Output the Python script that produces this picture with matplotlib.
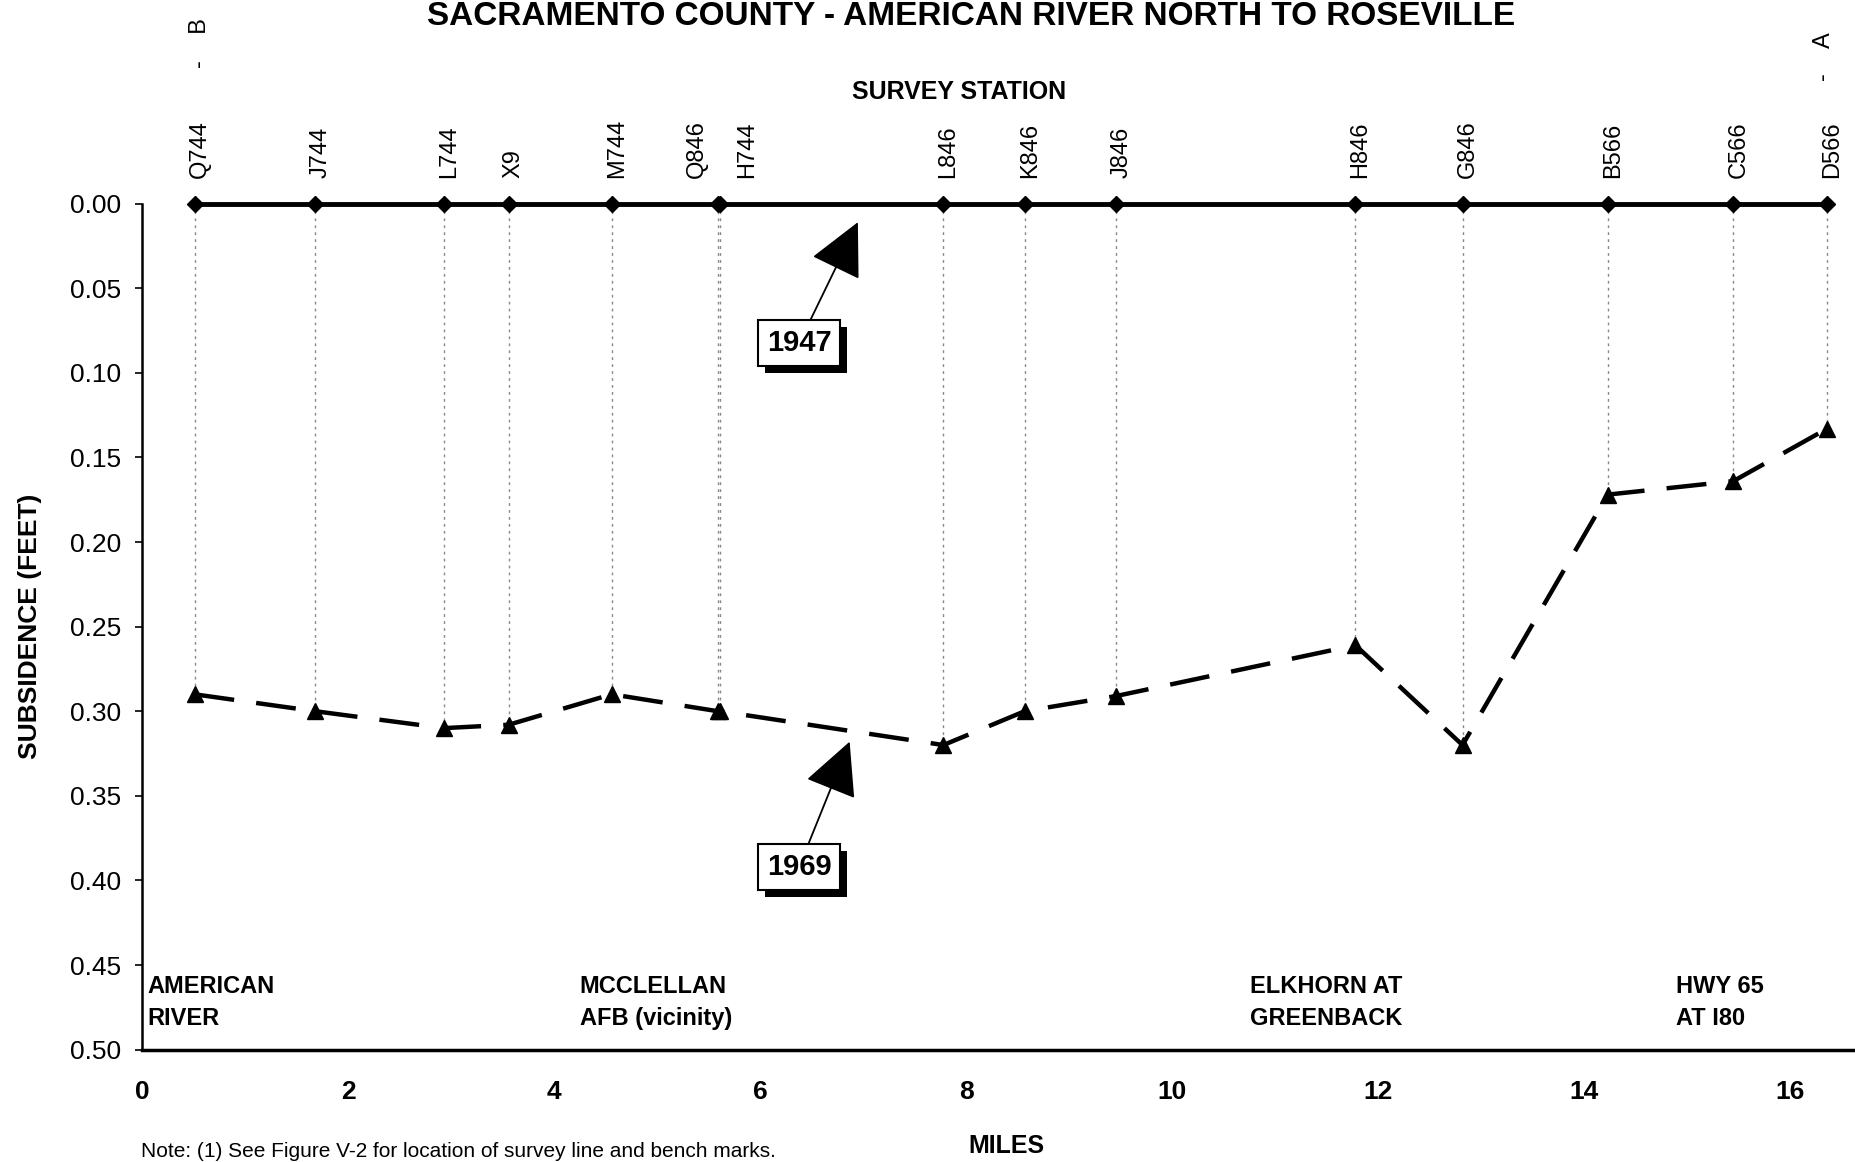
import numpy as np
import matplotlib
matplotlib.use('Agg')
import matplotlib.pyplot as plt
import matplotlib.patheffects as pe
import matplotlib.transforms as mtransforms

plt.rcParams['font.family'] = ['Liberation Sans', 'DejaVu Sans']

#--------------------------------------------------------------------------------------------------------------------------------
# Data
#--------------------------------------------------------------------------------------------------------------------------------

stations = ['Q744', 'J744', 'L744', 'X9', 'M744', 'Q846', 'H744', 'L846', 'K846', 'J846',
            'H846', 'G846', 'B566', 'C566', 'D566']
miles = [0.51, 1.68, 2.93, 3.56, 4.56, 5.59, 5.61, 7.78, 8.57, 9.46,
         11.78, 12.82, 14.23, 15.45, 16.36]
subsidence_1947 = [0.0] * 15
subsidence_1969 = [0.29, 0.30, 0.31, 0.308, 0.29, 0.30, 0.30, 0.32, 0.30, 0.291,
                   0.261, 0.32, 0.172, 0.164, 0.133]

y_ticks = [0.00, 0.05, 0.10, 0.15, 0.20, 0.25, 0.30, 0.35, 0.40, 0.45, 0.50]
x_ticks = [0, 2, 4, 6, 8, 10, 12, 14, 16]

places = ['AMERICAN\nRIVER', 'MCCLELLAN\nAFB (vicinity)', 'ELKHORN AT\nGREENBACK', 'HWY 65\nAT I80']
place_miles = [0.05, 4.25, 10.76, 14.89]

#--------------------------------------------------------------------------------------------------------------------------------
# Figure
#--------------------------------------------------------------------------------------------------------------------------------

fig = plt.figure(figsize=(18.56, 11.62), dpi=100)
ax = fig.add_axes([0.0765, 0.0967, 0.9235, 0.7281])

# vertical guide lines from each station down to the 1969 point
for m, v in zip(miles, subsidence_1969):
    ax.plot([m, m], [0, v], color='#888888', lw=1.0, ls=(0, (2, 3)), zorder=1)

ax.plot(miles, subsidence_1947, color='black', lw=3.5, marker='D', markersize=8, zorder=3,
        clip_on=False)
ax.plot(miles, subsidence_1969, color='black', lw=3.2, ls=(0, (9, 5)), marker='^',
        markersize=11, zorder=3, clip_on=False)

ax.set_xlim(0, 16.64)
ax.set_ylim(0.50, 0.0)
ax.set_xticks(x_ticks)
ax.set_xticklabels([str(t) for t in x_ticks], fontsize=19, fontweight='bold')
ax.set_yticks(y_ticks)
ax.set_yticklabels(['%.2f' % t for t in y_ticks], fontsize=19)
ax.tick_params(axis='x', length=0, pad=22)
ax.tick_params(axis='y', length=5, width=1.2, direction='out', pad=10)

ax.spines['top'].set_visible(False)
ax.spines['right'].set_visible(False)
ax.spines['left'].set_linewidth(1.8)
ax.spines['bottom'].set_linewidth(2.5)

ax.set_ylabel('SUBSIDENCE (FEET)', fontsize=19, fontweight='bold', labelpad=20)

# station labels along the top
label_shift = {'Q846': -0.2, 'H744': 0.26}
trans = mtransforms.blended_transform_factory(ax.transData, ax.transAxes)
for s, m in zip(stations, miles):
    ax.text(m + label_shift.get(s, 0.05), 1.03, s, rotation=90, ha='center', va='bottom',
            fontsize=17, transform=trans, clip_on=False)

ax.text(miles[0] + 0.05, 1.16, '-    B', rotation=90, ha='center', va='bottom', fontsize=17,
        transform=trans, clip_on=False)
ax.text(miles[-1] - 0.03, 1.145, '-    A', rotation=90, ha='center', va='bottom', fontsize=17,
        transform=trans, clip_on=False)

# place names inside the plot
for p, m in zip(places, place_miles):
    ax.text(m, 0.456, p, ha='left', va='top', fontsize=17, fontweight='bold', linespacing=1.5)

# year call-outs with shadowed boxes
shadow = [pe.withSimplePatchShadow(offset=(5, -5), shadow_rgbFace='black', alpha=1.0)]
for year, xy, xytext in [('1947', (6.95, 0.011), (6.38, 0.0825)),
                         ('1969', (6.87, 0.318), (6.38, 0.392))]:
    t = ax.annotate(year, xy=xy, xytext=xytext, ha='center', va='center', fontsize=21,
                    fontweight='bold',
                    bbox=dict(boxstyle='square,pad=0.3', fc='white', ec='black', lw=1.5),
                    arrowprops=dict(arrowstyle='-|>,head_length=0.9,head_width=0.45',
                                    mutation_scale=38, color='black', lw=1.3,
                                    shrinkA=0, shrinkB=0),
                    zorder=5)
    t.get_bbox_patch().set_path_effects(shadow)

fig.text(0.523, 0.999, 'SACRAMENTO COUNTY - AMERICAN RIVER NORTH TO ROSEVILLE', ha='center',
         va='top', fontsize=24, fontweight='bold')
fig.text(0.517, 0.921, 'SURVEY STATION', ha='center', va='center', fontsize=18, fontweight='bold')
fig.text(0.542, 0.014, 'MILES', ha='center', va='center', fontsize=18, fontweight='bold')
fig.text(0.076, 0.001, 'Note: (1) See Figure V-2 for location of survey line and bench marks.',
         ha='left', va='bottom', fontsize=15)

fig.savefig('out.png', dpi=100)
